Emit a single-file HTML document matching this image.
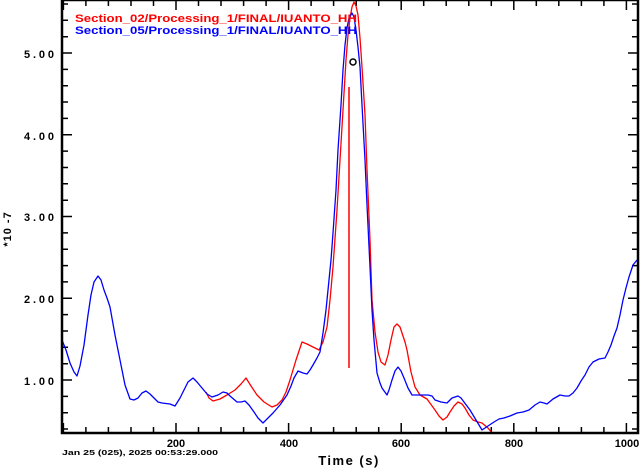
<!DOCTYPE html>
<html><head><meta charset="utf-8"><style>
html,body{margin:0;padding:0;background:#fff;}
svg{display:block;font-family:"Liberation Sans",sans-serif;font-weight:bold;}
</style></head><body>
<svg width="640" height="468" viewBox="0 0 640 468" xmlns="http://www.w3.org/2000/svg">
<path fill="none" stroke="#000" stroke-width="1.5" d="
M62 429 h6 M62 412.7 h6 M62 396.4 h6 M62 380 h10 M62 363.7 h6 M62 347.3 h6 M62 331 h6 M62 314.6 h6 M62 298.3 h10 M62 281.9 h6 M62 265.6 h6 M62 249.2 h6 M62 232.9 h6 M62 216.5 h10 M62 200.2 h6 M62 183.8 h6 M62 167.5 h6 M62 151.1 h6 M62 134.8 h10 M62 118.4 h6 M62 102 h6 M62 85.7 h6 M62 69.4 h6 M62 53 h10 M62 36.7 h6 M62 20.3 h6 M62 4 h6
M638 429 h-6 M638 412.7 h-6 M638 396.4 h-6 M638 380 h-10 M638 363.7 h-6 M638 347.3 h-6 M638 331 h-6 M638 314.6 h-6 M638 298.3 h-10 M638 281.9 h-6 M638 265.6 h-6 M638 249.2 h-6 M638 232.9 h-6 M638 216.5 h-10 M638 200.2 h-6 M638 183.8 h-6 M638 167.5 h-6 M638 151.1 h-6 M638 134.8 h-10 M638 118.4 h-6 M638 102 h-6 M638 85.7 h-6 M638 69.4 h-6 M638 53 h-10 M638 36.7 h-6 M638 20.3 h-6 M638 4 h-6
M63.4 433 v-10 M85.9 433 v-6 M108.4 433 v-6 M131 433 v-6 M153.5 433 v-6 M176 433 v-10 M198.5 433 v-6 M221 433 v-6 M243.6 433 v-6 M266.1 433 v-6 M288.6 433 v-10 M311.1 433 v-6 M333.6 433 v-6 M356.2 433 v-6 M378.7 433 v-6 M401.2 433 v-10 M423.7 433 v-6 M446.2 433 v-6 M468.8 433 v-6 M491.3 433 v-6 M513.8 433 v-10 M536.3 433 v-6 M558.8 433 v-6 M581.4 433 v-6 M603.9 433 v-6 M626.4 433 v-10
M63.4 0 v10 M85.9 0 v6 M108.4 0 v6 M131 0 v6 M153.5 0 v6 M176 0 v10 M198.5 0 v6 M221 0 v6 M243.6 0 v6 M266.1 0 v6 M288.6 0 v10 M311.1 0 v6 M333.6 0 v6 M356.2 0 v6 M378.7 0 v6 M401.2 0 v10 M423.7 0 v6 M446.2 0 v6 M468.8 0 v6 M491.3 0 v6 M513.8 0 v10 M536.3 0 v6 M558.8 0 v6 M581.4 0 v6 M603.9 0 v6 M626.4 0 v10"/>
<polyline fill="none" stroke="#ff0000" stroke-width="1.3" stroke-linejoin="round" points="206,392 209,398 213,401 220,399 227,395 235,390 241,384 246,378 251,386 257,395 264,402 272,407 277,405 282,400 286,392 290,380 296,360 302,342 307,344 311,346 319,350 323,342 327,327 330,300 333,267 337,210 340,160 343,110 346,60 348,35 350,18 352,7 354,2 356,6 358,15 360,38 362,67 365,115 367,170 370,240 372,300 375,332 378,352 381,362 385,365 388,355 391,340 394,327 397,324 400,327 402,333 405,342 407,350 411,372 415,387 420,395 427,399 435,410 439,416 443,420 447,417 450,412 454,406 458,402 462,404 465,408 469,415 473,420 478,422 482,423 488,428 492,433"/>
<line x1="349" y1="87" x2="349" y2="368" stroke="#ff0000" stroke-width="1.5"/>
<polyline fill="none" stroke="#0000ff" stroke-width="1.3" stroke-linejoin="round" points="62,340 66,350 70,363 74,372 77,376 80,366 84,345 88,315 91,295 94,282 98,276 101,280 104,290 107,298 110,307 115,335 120,360 125,385 130,399 134,400 138,398 142,393 146,391 150,394 154,398 158,402 162,403 170,404 175,406 180,398 184,390 188,382 193,378 197,382 202,388 207,394 212,397 218,395 223,392 227,393 230,396 237,402 241,402 245,401 249,405 254,412 258,418 263,423 268,418 273,413 280,405 287,395 291,386 294,378 298,371 303,373 307,374 310,370 313,365 317,358 320,352 323,333 326,310 328,290 331,260 333,233 336,190 338,150 341,105 343,70 345,45 347,28 349,18 352,13 354,17 356,30 358,47 360,67 362,105 365,160 367,205 370,267 372,310 374,340 376,362 377,373 380,383 382,388 387,395 389,390 392,380 395,371 398,367 401,371 404,378 408,388 412,395 420,395 428,395 432,396 435,400 441,402 447,403 452,398 458,396 461,398 464,402 470,410 476,420 482,430 488,426 494,422 499,419 504,418 510,416 517,413 523,412 529,410 535,405 540,402 544,403 547,404 553,399 560,395 565,396 569,396 573,393 577,388 581,381 585,375 589,367 593,362 599,359 605,358 608,352 611,345 614,336 617,328 620,315 623,300 626,288 629,277 633,265 637,260"/>
<circle cx="353" cy="62" r="3" fill="none" stroke="#000" stroke-width="1.5"/>
<rect x="62" y="0" width="576" height="433" fill="none" stroke="#000" stroke-width="2.5"/>
<text x="75" y="22" font-size="11" fill="#ff0000" textLength="282" lengthAdjust="spacingAndGlyphs">Section_02/Processing_1/FINAL/IUANTO_HH</text>
<text x="75" y="34" font-size="11" fill="#0000ff" textLength="282" lengthAdjust="spacingAndGlyphs">Section_05/Processing_1/FINAL/IUANTO_HH</text>
<g font-size="11" text-anchor="end">
<text x="54" y="58" textLength="30">5.00</text>
<text x="54" y="140" textLength="30">4.00</text>
<text x="54" y="221" textLength="30">3.00</text>
<text x="54" y="303" textLength="30">2.00</text>
<text x="54" y="385" textLength="30">1.00</text>
</g>
<g font-size="11" text-anchor="middle">
<text x="176" y="447">200</text>
<text x="289" y="447">400</text>
<text x="401" y="447">600</text>
<text x="514" y="447">800</text>
<text x="627" y="447">1000</text>
</g>
<text x="62" y="455" font-size="7.5" textLength="156" lengthAdjust="spacingAndGlyphs">Jan 25 (025), 2025 00:53:29.000</text>
<text x="349" y="465" font-size="13" text-anchor="middle" letter-spacing="1.5">Time (s)</text>
<text transform="translate(11,229) rotate(-90)" font-size="11" text-anchor="middle" letter-spacing="1">*10 -7</text>
</svg>
</body></html>
